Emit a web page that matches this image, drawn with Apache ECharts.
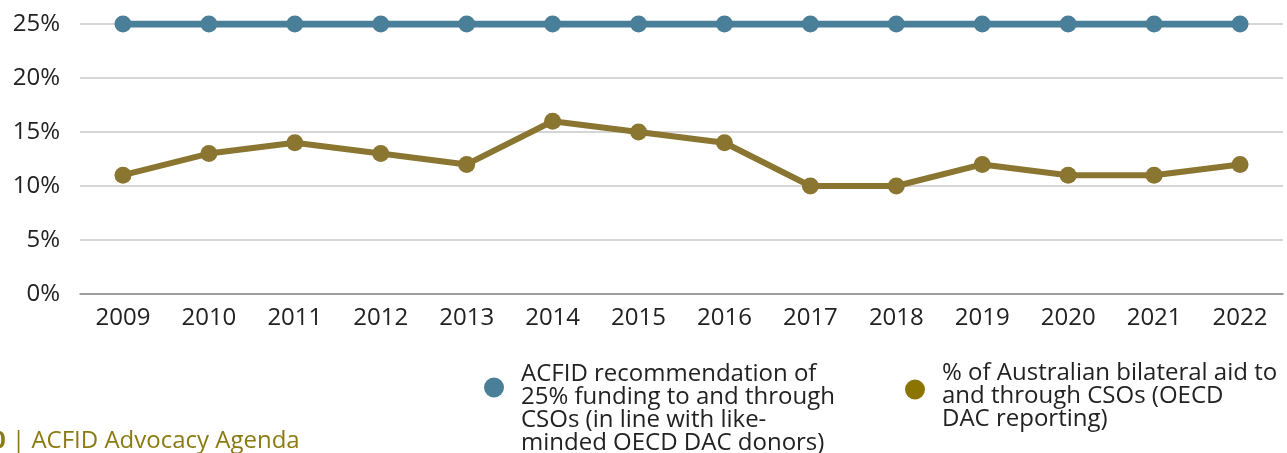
<!DOCTYPE html>
<html>
<head>
<meta charset="utf-8">
<script src="https://cdn.jsdelivr.net/npm/echarts@6/dist/echarts.min.js"></script>
<style>
  html, body { margin: 0; padding: 0; background: #fff; }
  #chart { width: 1287px; height: 453px; }
</style>
</head>
<body>
<div id="chart"></div>
<script>
const years = ['2009', '2010', '2011', '2012', '2013', '2014', '2015', '2016', '2017', '2018', '2019', '2020', '2021', '2022']
const acfidTarget = [25, 25, 25, 25, 25, 25, 25, 25, 25, 25, 25, 25, 25, 25]
const bilateralShare = [11, 13, 14, 13, 12, 16, 15, 14, 10, 10, 12, 11, 11, 12]
const nameTarget = 'ACFID recommendation of\n25% funding to and through\nCSOs (in line with like-\nminded OECD DAC donors)'
const nameShare = '% of Australian bilateral aid to\nand through CSOs (OECD\nDAC reporting)'

const blue = '#4a7f99'
const olive = '#8a7531'
const font = '"Open Sans", "Noto Sans", sans-serif'

// legend text is pushed down under the dot with an empty first line
function legendStyle(gap) {
  return {
    fontSize: 24,
    lineHeight: 23,
    color: '#222',
    fontFamily: font,
    rich: {
      sp: { lineHeight: gap, fontSize: 1 }
    }
  }
}

const chart = echarts.init(document.getElementById('chart'))
chart.setOption({
  animation: false,
  textStyle: { fontFamily: font },
  title: {
    text: '{b|0}{s| | }ACFID Advocacy Agenda',
    left: -8,
    top: 429,
    padding: 0,
    textStyle: {
      color: '#8c7b12',
      fontSize: 24,
      fontWeight: 'normal',
      fontFamily: font,
      rich: {
        b: { fontSize: 24, fontWeight: 'bold', color: '#8c7b12', fontFamily: font },
        s: { fontSize: 24, color: '#8c7b12', fontFamily: font }
      }
    }
  },
  grid: {
    left: 80,
    right: 4,
    top: 24,
    bottom: 159,
    containLabel: false
  },
  legend: [{
    left: 484,
    top: 320,
    padding: 0,
    itemWidth: 44,
    itemHeight: 20,
    icon: 'circle',
    data: [{ name: nameTarget, itemStyle: { color: blue } }],
    formatter: name => '{sp|}\n' + name,
    textStyle: legendStyle(43)
  }, {
    left: 905,
    top: 348,
    padding: 0,
    itemWidth: 44,
    itemHeight: 20,
    icon: 'circle',
    data: [{ name: nameShare, itemStyle: { color: '#8b7500' } }],
    formatter: name => '{sp|}\n' + name,
    textStyle: legendStyle(14)
  }],
  xAxis: {
    type: 'category',
    data: years,
    boundaryGap: true,
    axisTick: { show: false },
    axisLine: { lineStyle: { color: '#8c8c8c', width: 1.5 } },
    axisLabel: { fontSize: 24, color: '#222', margin: 12, fontFamily: font }
  },
  yAxis: {
    type: 'value',
    min: 0,
    max: 25,
    interval: 5,
    axisLine: { show: false },
    axisTick: { show: false },
    splitLine: { lineStyle: { color: '#c8c8c8', width: 1.5 } },
    axisLabel: {
      fontSize: 24,
      color: '#222',
      margin: 20,
      fontFamily: font,
      formatter: '{value}%'
    }
  },
  series: [{
    name: nameTarget,
    type: 'line',
    data: acfidTarget,
    symbol: 'circle',
    symbolSize: 17,
    itemStyle: { color: blue },
    lineStyle: { color: blue, width: 7 },
    z: 3
  }, {
    name: nameShare,
    type: 'line',
    data: bilateralShare,
    symbol: 'circle',
    symbolSize: 17,
    itemStyle: { color: olive },
    lineStyle: { color: olive, width: 6 },
    z: 2
  }]
})
</script>
</body>
</html>
